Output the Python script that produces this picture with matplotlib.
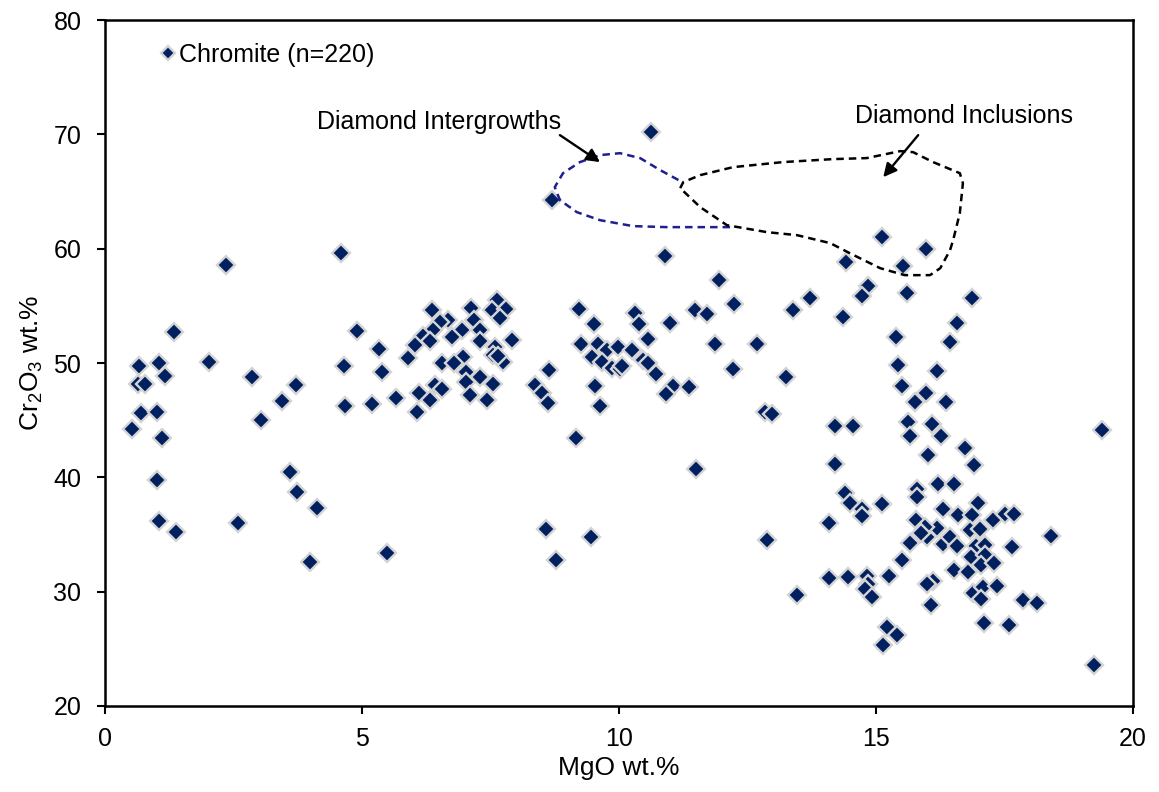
import matplotlib
matplotlib.use("Agg")
import matplotlib.pyplot as plt

plt.rcParams['font.family'] = ['Liberation Sans', 'DejaVu Sans']
plt.rcParams['mathtext.fontset'] = 'custom'
plt.rcParams['mathtext.rm'] = 'Liberation Sans'
plt.rcParams['mathtext.default'] = 'regular'

# chromite analyses, MgO wt.% vs Cr2O3 wt.%
mgo = [0.53, 0.66, 0.64, 0.78, 0.70, 1.01, 1.05, 1.17, 1.10, 1.01, 1.05, 1.38, 1.34,
       2.02, 2.35, 2.59, 2.86, 3.04, 3.44, 3.60, 3.73, 3.72, 3.99, 4.12, 4.59, 4.65,
       4.67, 4.90, 5.19, 5.33, 5.39, 5.49, 5.66,
       6.37, 7.13, 7.62, 7.52, 7.80, 7.68, 6.68, 6.52, 7.18, 6.39, 6.94, 7.30, 6.19,
       6.75, 6.32, 7.30, 7.92, 6.03, 7.59, 5.90, 6.97, 7.55, 7.74, 6.56, 6.78, 7.02,
       7.30, 7.02, 6.42, 7.55, 6.11, 6.32, 7.10, 7.43, 6.07, 7.65, 6.55,
       8.64, 8.37, 8.50, 8.62, 9.22, 9.51, 10.31, 10.39, 10.99, 10.56, 9.26, 9.59,
       9.77, 9.98, 10.25, 9.47, 9.67, 10.47, 9.86, 10.02, 10.72, 9.53, 11.05, 10.91,
       9.63, 9.16, 10.90, 8.58, 9.46, 8.77, 10.05, 10.57, 10.62, 8.70,
       15.12, 15.97, 14.42, 15.53, 11.95, 14.84, 14.73, 15.60, 12.24, 13.72, 11.48,
       11.71, 13.39, 14.36, 15.39, 11.87, 12.68, 15.43, 12.22, 13.25, 15.51, 11.36,
       15.97, 15.76, 12.84, 12.98, 15.62, 15.66, 14.20, 14.55, 14.20, 11.50, 16.01,
       14.40, 14.50, 15.12, 15.80, 15.80, 14.73, 14.73, 14.09, 15.78, 15.66, 15.99,
       12.88, 15.51, 14.09, 14.46, 14.82, 14.84, 14.78, 15.25, 13.46,
       16.87, 16.58, 16.44, 16.19, 16.36, 16.09, 19.40, 16.26, 16.73, 16.91, 16.20,
       16.52, 16.98, 16.30, 16.59, 16.87, 17.28, 17.51, 17.68, 16.19, 16.83, 17.02,
       15.95, 15.88, 16.30, 16.44, 16.58, 16.95, 17.12, 16.85, 17.12, 17.04, 17.30,
       17.65, 18.40, 16.52, 16.79, 14.92, 16.11, 15.99, 16.89, 17.08, 17.35, 17.04,
       17.86, 18.13, 16.07, 17.10, 17.59, 15.21, 15.41, 15.14, 19.24]
cr2o3 = [44.2, 49.7, 48.2, 48.2, 45.6, 45.7, 50.0, 48.9, 43.4, 39.8, 36.2, 35.2, 52.7,
         50.1, 58.6, 36.0, 48.8, 45.0, 46.7, 40.5, 38.7, 48.1, 32.6, 37.3, 59.6, 49.7,
         46.2, 52.8, 46.4, 51.2, 49.2, 33.4, 46.9,
         54.6, 54.8, 55.5, 54.6, 54.7, 53.9, 53.8, 53.6, 53.8, 52.9, 52.9, 52.9, 52.4,
         52.3, 51.9, 51.9, 52.0, 51.6, 51.4, 50.4, 50.5, 50.7, 50.1, 50.0, 50.0, 49.2,
         48.8, 48.3, 48.1, 48.2, 47.4, 46.8, 47.2, 46.8, 45.7, 50.6, 47.7,
         49.4, 48.1, 47.4, 46.5, 54.7, 53.4, 54.4, 53.4, 53.5, 52.1, 51.7, 51.7,
         51.1, 51.4, 51.1, 50.5, 50.1, 50.3, 49.6, 49.5, 49.0, 48.0, 48.0, 47.3,
         46.2, 43.4, 59.4, 35.5, 34.8, 32.8, 49.7, 50.0, 70.2, 64.3,
         61.0, 60.0, 58.8, 58.5, 57.3, 56.7, 55.9, 56.1, 55.2, 55.7, 54.6,
         54.3, 54.6, 54.0, 52.3, 51.7, 51.7, 49.8, 49.5, 48.8, 48.0, 47.9,
         47.4, 46.6, 45.7, 45.5, 44.8, 43.6, 44.5, 44.5, 41.2, 40.7, 42.0,
         38.6, 37.8, 37.7, 39.0, 38.3, 37.2, 36.6, 36.0, 36.3, 34.3, 34.8,
         34.5, 32.8, 31.2, 31.3, 31.4, 30.7, 30.2, 31.4, 29.7,
         55.7, 53.5, 51.8, 49.3, 46.6, 44.7, 44.1, 43.6, 42.6, 41.1, 39.4,
         39.4, 37.8, 37.2, 36.7, 36.7, 36.3, 36.8, 36.8, 35.6, 35.4, 35.5,
         35.7, 35.1, 34.2, 34.8, 34.0, 34.0, 34.1, 33.0, 33.2, 32.3, 32.5,
         33.9, 34.9, 31.9, 31.7, 29.5, 30.9, 30.7, 29.9, 30.4, 30.5, 29.4,
         29.3, 29.0, 28.8, 27.3, 27.1, 26.9, 26.2, 25.3, 23.6]

# hand-drawn fields
grow_x = [12.16, 10.93, 10.27, 9.63, 9.18, 8.85, 8.75, 8.91, 9.24, 9.63, 10.02, 10.41, 10.80, 11.23]
grow_y = [61.89, 61.89, 61.98, 62.50, 63.20, 64.25, 65.39, 66.61, 67.58, 68.19, 68.36, 67.93, 66.88, 65.83]
incl_x = [11.19, 11.25, 11.58, 12.22, 13.19, 14.16, 14.82, 15.47, 15.72, 16.11, 16.63, 16.69, 16.63,
          16.50, 16.44, 16.25, 16.05, 15.56, 15.08, 14.49, 14.11, 13.46, 12.88, 12.10, 11.58, 11.19]
incl_y = [65.30, 65.83, 66.44, 67.14, 67.58, 67.84, 67.93, 68.54, 68.45, 67.58, 66.61, 65.74, 63.11,
          60.75, 59.88, 58.30, 57.69, 57.69, 58.30, 59.61, 60.49, 61.19, 61.45, 62.06, 63.64, 65.30]

fig = plt.figure(figsize=(11.59, 7.92), dpi=100)
ax = fig.add_axes([0.0906, 0.1086, 0.887, 0.866])

ax.plot(mgo, cr2o3, 'D', color='#002060', ms=9.5, mec='#d4d4d4', mew=1.7,
        linestyle='none', label='Chromite (n=220)')

ax.plot(grow_x, grow_y, '--', color='#1f1f8f', lw=1.8, dashes=(3, 2))
ax.plot(incl_x, incl_y, '--', color='black', lw=1.8, dashes=(3, 2))

arrow = dict(arrowstyle='-|>', color='black', lw=1.7, mutation_scale=20, shrinkA=0, shrinkB=0)
ax.text(6.5, 71.1, 'Diamond Intergrowths', ha='center', va='center', fontsize=18)
ax.annotate('', xy=(9.63, 67.58), xytext=(8.85, 69.94), arrowprops=arrow)
ax.text(16.71, 71.6, 'Diamond Inclusions', ha='center', va='center', fontsize=18)
ax.annotate('', xy=(15.14, 66.26), xytext=(15.82, 69.94), arrowprops=arrow)

ax.set_xlim(0, 20)
ax.set_ylim(20, 80)
ax.set_xticks([0, 5, 10, 15, 20])
ax.set_yticks([20, 30, 40, 50, 60, 70, 80])
ax.tick_params(direction='out', length=6, width=1.5, labelsize=18)
ax.tick_params(axis='y', pad=11)
ax.tick_params(axis='x', pad=9)
for s in ax.spines.values():
    s.set_linewidth(1.8)
ax.set_xlabel('MgO wt.%', fontsize=19, labelpad=4)
ax.set_ylabel(r'Cr$_2$O$_3$ wt.%', fontsize=19, labelpad=6)

ax.legend(loc='upper left', bbox_to_anchor=(0.028, 1.0), frameon=False, fontsize=18,
          handletextpad=0.0, markerscale=0.7, handlelength=0.9)

fig.savefig('out.png', dpi=100)
